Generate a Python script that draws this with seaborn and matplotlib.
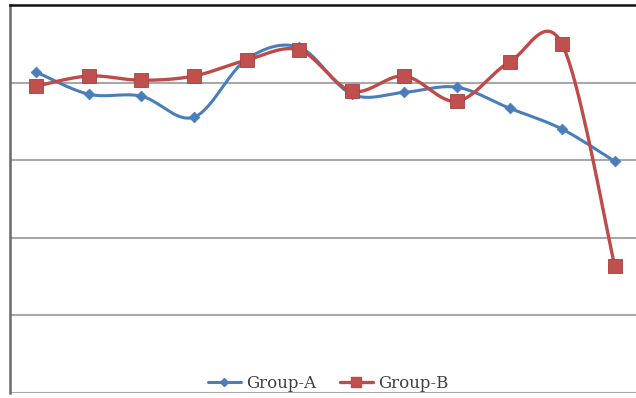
import numpy as np
import pandas as pd
import matplotlib
matplotlib.use("Agg")
import matplotlib.pyplot as plt
from matplotlib.lines import Line2D
import seaborn as sns

# Data
periods = list(range(1, 13))
group_a = [82.7, 77.0, 76.5, 71.1, 86.0, 89.1, 77.0, 77.5, 78.8, 73.4, 68.0, 59.7]
group_b = [79.1, 81.7, 80.6, 81.7, 85.8, 88.4, 77.8, 81.7, 75.2, 85.3, 89.9, 32.8]
series_names = ["Group-A", "Group-B"]
y_ticks = [0, 20, 40, 60, 80, 100]

BLUE = "#4A7EBB"
RED = "#BE4B48"


def smooth(xs, ys, n=40):
    """Catmull-Rom spline through the points (Excel-style smoothed line)."""
    pts = np.column_stack([xs, ys]).astype(float)
    ext = np.vstack([pts[0], pts, pts[-1]])
    out = []
    for i in range(1, len(ext) - 2):
        p0, p1, p2, p3 = ext[i - 1], ext[i], ext[i + 1], ext[i + 2]
        c1 = p1 + (p2 - p0) / 6.0
        c2 = p2 - (p3 - p1) / 6.0
        t = np.linspace(0, 1, n, endpoint=(i == len(ext) - 3))[:, None]
        seg = ((1 - t) ** 3) * p1 + 3 * ((1 - t) ** 2) * t * c1 + 3 * (1 - t) * t ** 2 * c2 + t ** 3 * p2
        out.append(seg)
    out = np.vstack(out)
    return out[:, 0], out[:, 1]


sns.set_theme(style="white")
plt.rcParams["font.family"] = ["DejaVu Serif"]

fig = plt.figure(figsize=(6.36, 3.98), dpi=100)
ax = fig.add_axes([10 / 636, 5 / 398, 631 / 636, 388 / 398])

curves = []
for name, vals in zip(series_names, [group_a, group_b]):
    sx, sy = smooth(periods, vals)
    curves.append(pd.DataFrame({"x": sx, "y": sy, "series": name}))
curve_df = pd.concat(curves, ignore_index=True)
point_df = pd.DataFrame({
    "x": periods * 2,
    "y": group_a + group_b,
    "series": [series_names[0]] * 12 + [series_names[1]] * 12,
})

# horizontal gridlines
for yv in y_ticks[:-1]:
    ax.axhline(yv, color="#a8a8a8", lw=1.5, zorder=0)

sns.lineplot(data=curve_df[curve_df.series == "Group-A"], x="x", y="y", color=BLUE,
             lw=2.2, ax=ax, sort=False, legend=False, zorder=3)
sns.scatterplot(data=point_df[point_df.series == "Group-A"], x="x", y="y", color=BLUE,
                marker="D", s=30, edgecolor=BLUE, linewidth=0.5, ax=ax, legend=False, zorder=4)
sns.lineplot(data=curve_df[curve_df.series == "Group-B"], x="x", y="y", color=RED,
             lw=2.4, ax=ax, sort=False, legend=False, zorder=5)
sns.scatterplot(data=point_df[point_df.series == "Group-B"], x="x", y="y", color="#C0504D",
                marker="s", s=100, edgecolor="#A8403D", linewidth=0.6, ax=ax, legend=False, zorder=6)

ax.set_xlim(0.5, 12.5)
ax.set_ylim(0, 100)
ax.set_xticks([])
ax.set_yticks([])
ax.set_xlabel("")
ax.set_ylabel("")

for side in ["right", "bottom"]:
    ax.spines[side].set_visible(False)
ax.spines["top"].set_color("#111111")
ax.spines["top"].set_linewidth(1.8)
ax.spines["left"].set_color("#6a6a6a")
ax.spines["left"].set_linewidth(1.8)

handles = [
    Line2D([0], [0], color=BLUE, lw=2.2, marker="D", markersize=4.5, markerfacecolor=BLUE),
    Line2D([0], [0], color=RED, lw=2.4, marker="s", markersize=7, markerfacecolor="#C0504D"),
]
leg = fig.legend(handles, series_names, loc="center", bbox_to_anchor=(328 / 636, 1 - 383 / 398),
                 ncol=2, frameon=False, fontsize=12, handlelength=2.0, handletextpad=0.3,
                 columnspacing=1.4, borderpad=0.1)
for txt in leg.get_texts():
    txt.set_color("#404040")

fig.savefig("out.png", dpi=100)
